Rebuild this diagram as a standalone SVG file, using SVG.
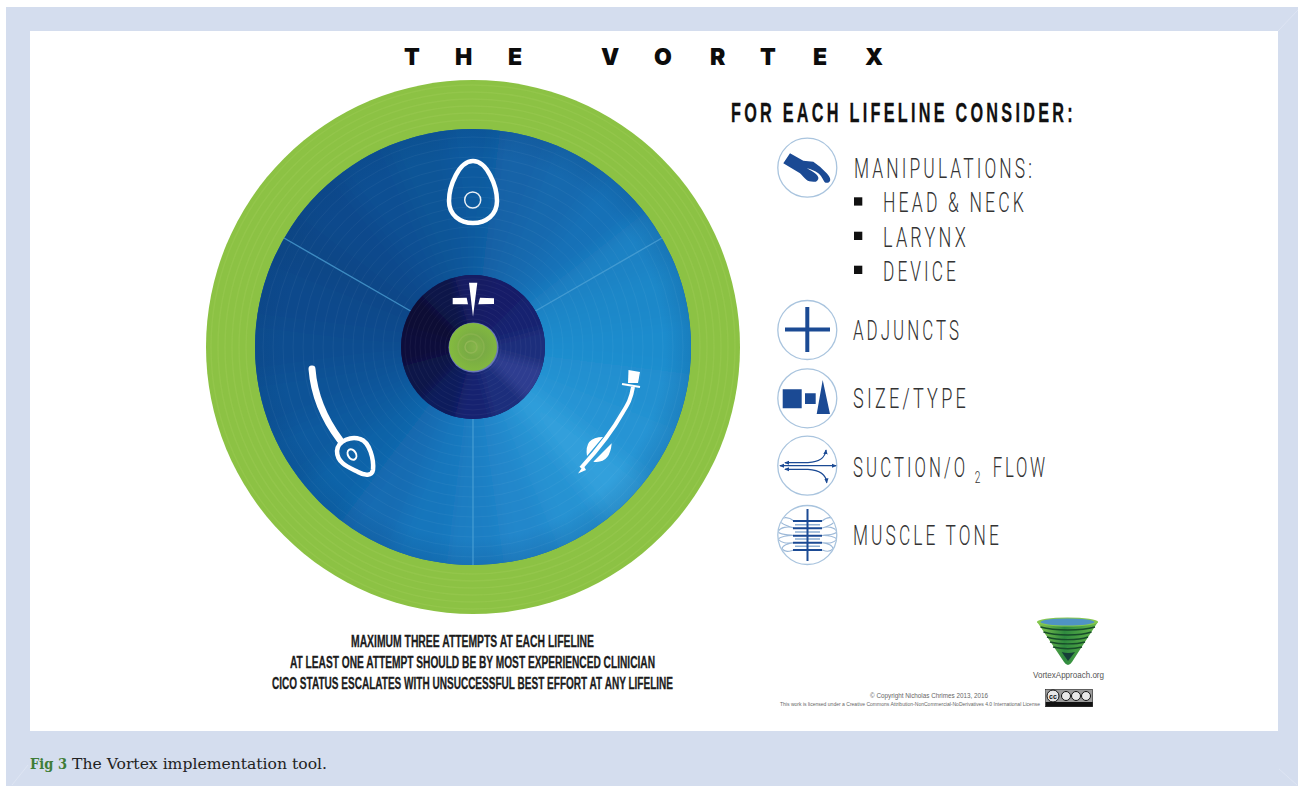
<svg xmlns="http://www.w3.org/2000/svg" xmlns:xlink="http://www.w3.org/1999/xlink" width="1298" height="786" viewBox="0 0 1298 786">
<style>
.thin{font-family:"Roboto","Liberation Sans",sans-serif;font-weight:300;font-size:28px;fill:#333;letter-spacing:5px}
.cond{font-family:"Liberation Sans",Arial,sans-serif;font-weight:700;font-size:16px;fill:#1c1c1c;stroke:#1c1c1c;stroke-width:.3}
.ic{fill:#fff;stroke:#a9c4de;stroke-width:1.3}
.nv{fill:#1b4a94}
.nvl{fill:none;stroke:#1b4a94}
.lb{fill:none;stroke:#9db9d8;stroke-width:1.1}
.wl{fill:none;stroke:#fff;stroke-linecap:round;stroke-linejoin:round}
.ring{fill:none;stroke:#fff;stroke-opacity:.045;stroke-width:1}
.gring{fill:none;stroke:#a5d05c;stroke-opacity:.28;stroke-width:1.5}
.div{stroke:#4ea2d6;stroke-width:1.4;stroke-opacity:.75}
.cc{fill:#e8e8e8;stroke:#111;stroke-width:1}
</style>
<defs>
<path id="w" d="M0 0L-34.800-247.600A250 250 0 0 1 34.800-247.600Z"/>
<path id="w2" d="M0 0L-26-97A100.400 100.400 0 0 1 26-97Z"/>
<clipPath id="cb"><circle cx="473" cy="347" r="218"/></clipPath>
<clipPath id="cd"><circle cx="473" cy="347" r="72"/></clipPath>
<clipPath id="ci5"><circle cx="807.3" cy="535" r="29"/></clipPath>
<filter id="bl" x="-10%" y="-10%" width="120%" height="120%"><feGaussianBlur stdDeviation="10"/></filter>
<filter id="bl2" x="-10%" y="-10%" width="120%" height="120%"><feGaussianBlur stdDeviation="5"/></filter>
<radialGradient id="gg" cx=".55" cy=".5" r=".55"><stop offset="0" stop-color="#86b54a"/><stop offset=".4" stop-color="#79ab44"/><stop offset="1" stop-color="#84bb3f"/></radialGradient>
<radialGradient id="rim"><stop offset=".88" stop-color="#0a3f7a" stop-opacity="0"/><stop offset="1" stop-color="#0a3f7a" stop-opacity=".18"/></radialGradient>
<linearGradient id="fun" x1="0" x2="1" y1="0" y2="0"><stop offset="0" stop-color="#86c84e"/><stop offset=".45" stop-color="#2f8a3f"/><stop offset="1" stop-color="#66b848"/></linearGradient>
<marker id="ah" viewBox="0 0 6 6" refX="5" refY="3" markerWidth="4" markerHeight="4" orient="auto-start-reverse"><path d="M0 .5L6 3L0 5.500Z" fill="#1b4a94"/></marker>
</defs>
<rect width="1298" height="786" fill="#fff"/>
<rect x="6" y="7" width="1292" height="779" fill="#d4ddee"/>
<rect x="30" y="31" width="1248" height="700" fill="#fff"/>
<path d="M1278 31L1298 10M1279 769L1297 785M28 765L12 785" stroke="#dfe6f4" stroke-width=".8" fill="none"/>

<text id="title" y="65" font-family="Inter,'Liberation Sans',sans-serif" font-weight="900" font-size="23" fill="#0c0c0c" x="404 455 508 601 654 710 760 813 865">THEVORTEX</text>

<g id="vortex">
<circle cx="473" cy="347" r="267" fill="#8cc244"/>
<g>
<circle class="gring" cx="473" cy="347" r="262"/><circle class="gring" cx="473" cy="347" r="255"/><circle class="gring" cx="473" cy="347" r="248"/><circle class="gring" cx="473" cy="347" r="241"/><circle class="gring" cx="473" cy="347" r="234"/><circle class="gring" cx="473" cy="347" r="227"/>
</g>
<circle cx="473" cy="347" r="218" fill="#135fa5"/>
<g clip-path="url(#cb)"><g filter="url(#bl)" transform="translate(473 347)">
<use href="#w" fill="#115a9f"/>
<use href="#w" fill="#1263a8" transform="rotate(15)"/>
<use href="#w" fill="#1469ae" transform="rotate(30)"/>
<use href="#w" fill="#1871b7" transform="rotate(45)"/>
<use href="#w" fill="#1c82c4" transform="rotate(60)"/>
<use href="#w" fill="#1e88c9" transform="rotate(75)"/>
<use href="#w" fill="#1f8ccd" transform="rotate(90)"/>
<use href="#w" fill="#2090d0" transform="rotate(105)"/>
<use href="#w" fill="#2594d4" transform="rotate(120)"/>
<use href="#w" fill="#33a0dc" transform="rotate(135)"/>
<use href="#w" fill="#2592d2" transform="rotate(150)"/>
<use href="#w" fill="#2087cb" transform="rotate(165)"/>
<use href="#w" fill="#1a7ec3" transform="rotate(180)"/>
<use href="#w" fill="#1776bc" transform="rotate(195)"/>
<use href="#w" fill="#146cb2" transform="rotate(210)"/>
<use href="#w" fill="#1163a8" transform="rotate(225)"/>
<use href="#w" fill="#0f5a9f" transform="rotate(240)"/>
<use href="#w" fill="#0f5397" transform="rotate(255)"/>
<use href="#w" fill="#0f4d90" transform="rotate(270)"/>
<use href="#w" fill="#0f4a8c" transform="rotate(285)"/>
<use href="#w" fill="#114787" transform="rotate(300)"/>
<use href="#w" fill="#114a8c" transform="rotate(315)"/>
<use href="#w" fill="#114f93" transform="rotate(330)"/>
<use href="#w" fill="#115597" transform="rotate(345)"/>
</g></g>
<circle cx="473" cy="347" r="218" fill="url(#rim)"/>
<g>
<circle class="ring" cx="473" cy="347" r="210"/><circle class="ring" cx="473" cy="347" r="200"/><circle class="ring" cx="473" cy="347" r="190"/><circle class="ring" cx="473" cy="347" r="180"/><circle class="ring" cx="473" cy="347" r="170"/><circle class="ring" cx="473" cy="347" r="160"/><circle class="ring" cx="473" cy="347" r="150"/><circle class="ring" cx="473" cy="347" r="140"/><circle class="ring" cx="473" cy="347" r="130"/><circle class="ring" cx="473" cy="347" r="120"/><circle class="ring" cx="473" cy="347" r="110"/><circle class="ring" cx="473" cy="347" r="100"/><circle class="ring" cx="473" cy="347" r="90"/><circle class="ring" cx="473" cy="347" r="80"/>
</g>
</g>

<g id="connectors">
<line class="div" x1="535.4" y1="311" x2="662" y2="238"/>
<line class="div" x1="473" y1="419" x2="473" y2="565"/>
<line class="div" x1="410.600" y1="311" x2="284" y2="238"/>
</g>

<g id="centre">
<circle cx="473" cy="347" r="72" fill="#121a5e"/>
<g clip-path="url(#cd)"><g filter="url(#bl2)" transform="translate(473 347)">
<use href="#w2" fill="#141d63"/>
<use href="#w2" fill="#141f68" transform="rotate(30)"/>
<use href="#w2" fill="#17246f" transform="rotate(60)"/>
<use href="#w2" fill="#1f2d7c" transform="rotate(90)"/>
<use href="#w2" fill="#2f3e90" transform="rotate(120)"/>
<use href="#w2" fill="#1f2d7c" transform="rotate(150)"/>
<use href="#w2" fill="#172470" transform="rotate(180)"/>
<use href="#w2" fill="#111a5c" transform="rotate(210)"/>
<use href="#w2" fill="#0d1248" transform="rotate(240)"/>
<use href="#w2" fill="#0a0d3a" transform="rotate(270)"/>
<use href="#w2" fill="#090b34" transform="rotate(300)"/>
<use href="#w2" fill="#0e1448" transform="rotate(330)"/>
</g></g>
<g>
<circle class="ring" cx="473" cy="347" r="68"/><circle class="ring" cx="473" cy="347" r="63"/><circle class="ring" cx="473" cy="347" r="58"/><circle class="ring" cx="473" cy="347" r="53"/><circle class="ring" cx="473" cy="347" r="48"/><circle class="ring" cx="473" cy="347" r="43"/><circle class="ring" cx="473" cy="347" r="38"/><circle class="ring" cx="473" cy="347" r="33"/><circle class="ring" cx="473" cy="347" r="28"/>
</g>
<circle cx="473.500" cy="347.500" r="25" fill="#6a78b8"/>
<circle cx="473" cy="347" r="24" fill="url(#gg)"/>
<circle cx="471" cy="347" r="6" fill="none" stroke="#90b654" stroke-width="1.500"/>
<circle cx="471" cy="347" r="13" fill="none" stroke="#90b654" stroke-width="1.500" stroke-opacity=".6"/>
<path d="M452.700 298L466.700 297.700L468 304.300H452.700ZM480 297.700L494 298.300V304L478.300 304.300ZM469 282.700H477.300L473 316.700Z" fill="#fff"/>
</g>

<g id="facemask">
<path class="wl" stroke-width="4.500" d="M473 161C459 161 449 186 449 201C449 215 460 223 473 223C486 223 497 215 497 201C497 186 487 161 473 161Z"/>
<circle cx="472.700" cy="200" r="8" fill="none" stroke="#e8eef5" stroke-width="1.500"/>
</g>
<g id="lma">
<path class="wl" stroke-width="7" stroke-linecap="butt" d="M312 369C314 395 325 420 340 440"/>
<path class="wl" stroke-width="4.500" d="M337 451C338 440 352 436 360 439C370 442 374 460 373 470C372 476 365 476 358 472C348 467 337 463 337 451Z"/>
<ellipse cx="352" cy="454.500" rx="4" ry="5.500" transform="rotate(-30 352 454.500)" fill="none" stroke="#fff" stroke-width="2"/>
</g>
<g id="ett">
<path d="M628.500 370L640 372L638 383L628 383Z" fill="#fff"/>
<path d="M622 384L640 387" stroke="#fff" stroke-width="2.200"/>
<path d="M633 387C631 399 628 404 623 412C618 421 612 430 606 438C600 446 592 456 581 468" fill="none" stroke="#fff" stroke-width="4"/>
<path d="M583.500 465.500L578 473.500L586 470Z" fill="#fff"/>
<path d="M587 456Q584 437 603 437ZM593.300 461.700Q610 464 611.700 443.300Z" fill="#fff"/>
</g>

<text id="heading" class="cond" transform="translate(731 121.700) scale(.58 1)" style="font-size:28px;fill:#111;stroke:#111;letter-spacing:6px" textLength="595" lengthAdjust="spacing">FOR EACH LIFELINE CONSIDER:</text>

<g id="manipulations">
<circle class="ic" cx="807.300" cy="167.700" r="29.500"/>
<path class="nv" d="M790 153.300L803.300 160.700L813.300 161.700L820 166.700L826.700 173.300C829 176 831 179 830 181C829 183 826 183.500 824.500 182L823.300 180C822 177 820 175 818.300 173.300C815 171 811 169 806.700 168.300C810 170 813 171.500 815 173.300C817 175 819 177 818.300 179C817 181.500 816 181.700 815 181.700C811 182 808 181 806.700 180C804 178 802 175 800 173.300L783.300 163.300Z"/>
<text class="thin" x="854" y="178.300" textLength="181" lengthAdjust="spacingAndGlyphs">MANIPULATIONS:</text>
<rect x="854" y="197.300" width="8.300" height="8.300" fill="#111"/>
<text class="thin" x="883" y="211.700" textLength="144" lengthAdjust="spacingAndGlyphs">HEAD &amp; NECK</text>
<rect x="854" y="231.700" width="8.300" height="8.300" fill="#111"/>
<text class="thin" x="883" y="246.700" textLength="86" lengthAdjust="spacingAndGlyphs">LARYNX</text>
<rect x="854" y="265.700" width="8.300" height="8.300" fill="#111"/>
<text class="thin" x="883" y="280.700" textLength="76" lengthAdjust="spacingAndGlyphs">DEVICE</text>
</g>
<g id="adjuncts">
<circle class="ic" cx="807.300" cy="330" r="29.500"/>
<path class="nvl" stroke-width="4" d="M785 329.500H830M807.300 307V352"/>
<text class="thin" x="853" y="340" textLength="109" lengthAdjust="spacingAndGlyphs">ADJUNCTS</text>
</g>
<g id="sizetype">
<circle class="ic" cx="807.300" cy="398.300" r="29.500"/>
<path class="nv" d="M782.700 389.300H801.700V408.300H782.700ZM805 393.300H815.700V404H805ZM822.700 380L830 414H816.700Z"/>
<text class="thin" x="853" y="408.300" textLength="116" lengthAdjust="spacingAndGlyphs">SIZE/TYPE</text>
</g>
<g id="suction">
<circle class="ic" cx="807.300" cy="465.700" r="29.500"/>
<path class="nvl" stroke-width="1.300" marker-start="url(#ah)" marker-end="url(#ah)" d="M780 465.700H836"/>
<path class="nvl" stroke-width="1.300" marker-start="url(#ah)" marker-end="url(#ah)" d="M785 462.700H808C820 462 825 458 826 450"/>
<path class="nvl" stroke-width="1.300" marker-start="url(#ah)" marker-end="url(#ah)" d="M785 469.300H808C820 470 826 474 826.700 482.700"/>
<text class="thin" transform="translate(853 476.700) scale(.6 1)"><tspan x="0" y="0" textLength="192" lengthAdjust="spacing">SUCTION/O</tspan><tspan x="203" y="6.300" style="font-size:17px;letter-spacing:0">2</tspan><tspan x="233" y="0" textLength="92" lengthAdjust="spacing">FLOW</tspan></text>
</g>
<g id="muscle">
<circle class="ic" cx="807.300" cy="535" r="29.500"/>
<g clip-path="url(#ci5)">
<path class="lb" d="M794 521C788 516 782 517 780 521C782 525 788 526 794 528C788 526 780 527 778 532C782 536 788 534 794 535.500C788 535 780 537 778 539C782 544 788 543 794 542.700C788 543 782 546 782 549C786 553 790 551 794 550M822 521C828 516 833 517 835 521C833 525 828 526 822 528C828 526 835 527 837 532C833 536 828 534 822 535.500C828 535 835 537 837 539C833 544 828 543 822 542.700C828 543 833 546 833 549C829 553 825 551 822 550"/>
<path stroke="#8fb0d4" stroke-width="1.500" fill="none" d="M795 524.700H820M795 532H820M795 539H820M795 546.300H820"/>
</g>
<path class="nvl" stroke-width="2" d="M793 521H822M793 528.300H822M793 535.700H822M793 542.700H822M793 550H822M807.500 509V561"/>
<text class="thin" x="853" y="545" textLength="149" lengthAdjust="spacingAndGlyphs">MUSCLE TONE</text>
</g>

<g id="notes">
<text class="cond" x="351" y="646.700" textLength="243" lengthAdjust="spacingAndGlyphs">MAXIMUM THREE ATTEMPTS AT EACH LIFELINE</text>
<text class="cond" x="290" y="668" textLength="365" lengthAdjust="spacingAndGlyphs">AT LEAST ONE ATTEMPT SHOULD BE BY MOST EXPERIENCED CLINICIAN</text>
<text class="cond" x="272" y="689" textLength="401" lengthAdjust="spacingAndGlyphs">CICO STATUS ESCALATES WITH UNSUCCESSFUL BEST EFFORT AT ANY LIFELINE</text>
</g>

<g id="logo">
<path d="M1037 621.700H1098L1072 662Q1068 668 1064 662Z" fill="url(#fun)"/>
<path d="M1040.500 627C1055 631 1081 631 1095 627M1043.500 632C1056 636 1080 636 1091.500 632M1047 637C1058 640.500 1078 640.500 1088 637M1050 642C1060 644.500 1076 644.500 1085 642M1053 647C1062 649 1074 649 1082 647" fill="none" stroke="#174c2a" stroke-width="1.400"/>
<path d="M1061.700 652Q1068 654 1075 652L1068 661Z" fill="#153f38"/>
<ellipse cx="1067.500" cy="622" rx="30.500" ry="4.500" fill="#86c84e"/>
<ellipse cx="1067.500" cy="622" rx="27" ry="3.500" fill="#4f93c4"/>
<text x="1033" y="677.700" font-family="'Liberation Sans',Arial,sans-serif" font-size="9" fill="#555" textLength="71" lengthAdjust="spacingAndGlyphs">VortexApproach.org</text>
</g>
<g id="licence">
<text x="870" y="698" font-family="'Liberation Sans',Arial,sans-serif" font-size="6.500" fill="#666" textLength="118" lengthAdjust="spacingAndGlyphs">© Copyright Nicholas Chrimes 2013, 2016</text>
<text x="780" y="706" font-family="'Liberation Sans',Arial,sans-serif" font-size="4.500" fill="#666" textLength="260" lengthAdjust="spacingAndGlyphs">This work is licensed under a Creative Commons Attribution-NonCommercial-NoDerivatives 4.0 International License</text>
<rect x="1045.700" y="689.300" width="47" height="17.400" fill="#9a9a9a" stroke="#222" stroke-width=".6"/>
<rect x="1045.700" y="702" width="47" height="4.700" fill="#111"/>
<circle class="cc" cx="1053" cy="696" r="6"/>
<text x="1053" y="698.500" text-anchor="middle" font-family="'Liberation Sans',Arial,sans-serif" font-weight="700" font-size="7" fill="#111">cc</text>
<circle class="cc" cx="1066" cy="696" r="4.500"/><circle class="cc" cx="1076" cy="696" r="4.500"/><circle class="cc" cx="1086" cy="696" r="4.500"/>
</g>

<text id="caption" y="769.300" font-family="'DejaVu Serif','Liberation Serif',serif" font-size="14.500"><tspan x="30" font-weight="700" fill="#3f7d38" textLength="37" lengthAdjust="spacingAndGlyphs">Fig 3</tspan><tspan x="72" fill="#222" textLength="255" lengthAdjust="spacingAndGlyphs">The Vortex implementation tool.</tspan></text>
</svg>
